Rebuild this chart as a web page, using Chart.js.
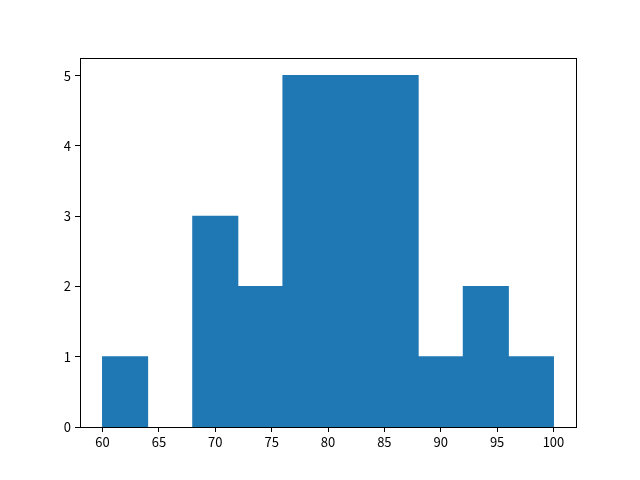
<!DOCTYPE html>
<html>
<head>
<meta charset="utf-8">
<script src="https://cdn.jsdelivr.net/npm/chart.js@4"></script>
<style>
  html, body { margin: 0; padding: 0; background: #fff; }
  #wrap { width: 640px; height: 480px; }
</style>
</head>
<body>
<div id="wrap"><canvas id="chart" width="640" height="480"></canvas></div>
<script>
// histogram bins (left edges, width 4) and counts
const binEdges = [60, 64, 68, 72, 76, 80, 84, 88, 92, 96, 100];
const counts = [1, 0, 3, 2, 5, 5, 5, 1, 2, 1];
const xTicks = [60, 65, 70, 75, 80, 85, 90, 95, 100];
const yTicks = [0, 1, 2, 3, 4, 5];

const points = counts.map((c, i) => ({ x: (binEdges[i] + binEdges[i + 1]) / 2, y: c }));

const frame = {
  id: 'frame',
  afterDraw(chart) {
    const a = chart.chartArea;
    const ctx = chart.ctx;
    ctx.save();
    ctx.strokeStyle = '#000';
    ctx.lineWidth = 1;
    ctx.strokeRect(Math.round(a.left) + 0.5, Math.round(a.top) + 0.5,
      Math.round(a.right - a.left), Math.round(a.bottom - a.top));
    ctx.restore();
  }
};

const tickFont = { family: '"Noto Sans CJK SC", "Noto Sans", sans-serif', size: 13 };

new Chart(document.getElementById('chart'), {
  type: 'bar',
  data: {
    datasets: [{
      data: points,
      // empty bins stay invisible
      backgroundColor: c => (c.raw && c.raw.y === 0) ? 'rgba(0,0,0,0)' : '#1f77b4',
      borderWidth: 0,
      inflateAmount: 0.5, // hide seams between neighbouring bins
      barPercentage: 1,
      categoryPercentage: 1
    }]
  },
  options: {
    responsive: false,
    animation: false,
    layout: { padding: { top: 58, right: 64, left: 0, bottom: 0 } },
    plugins: { legend: { display: false }, tooltip: { enabled: false } },
    scales: {
      x: {
        type: 'linear',
        min: 58,
        max: 102,
        offset: false,
        afterBuildTicks: s => { s.ticks = xTicks.map(v => ({ value: v })); },
        afterFit: s => { s.height = 53; },
        ticks: { color: '#000', font: tickFont, padding: 2, maxRotation: 0 },
        grid: { offset: false, drawOnChartArea: false, drawTicks: true, tickLength: 5, color: '#000' },
        border: { display: false }
      },
      y: {
        min: 0,
        max: 5.25,
        afterBuildTicks: s => { s.ticks = yTicks.map(v => ({ value: v })); },
        afterFit: s => { s.width = 80; },
        ticks: { color: '#000', font: tickFont, padding: 4 },
        grid: { drawOnChartArea: false, drawTicks: true, tickLength: 5, color: '#000' },
        border: { display: false }
      }
    }
  },
  plugins: [frame]
});
</script>
</body>
</html>
